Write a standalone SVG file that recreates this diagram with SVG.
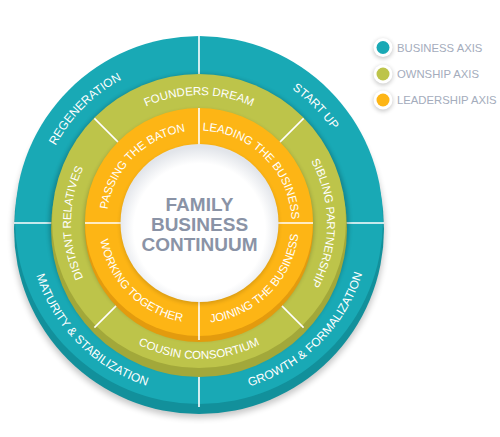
<svg xmlns="http://www.w3.org/2000/svg" width="500" height="437" viewBox="0 0 500 437">
<defs>
<style>
.lbl{font-family:"Liberation Sans","Open Sans",sans-serif;font-size:11.5px;fill:#ffffff}
.lbl.t{font-size:12px}
.div{stroke:#ffffff;stroke-width:1.6}
.center{font-family:"Liberation Sans",Arial,sans-serif;font-weight:bold;font-size:19px;fill:#8a93a6;text-anchor:middle}
.leg{font-family:"Liberation Sans",Arial,sans-serif;font-size:11.3px;fill:#a4acbc}
.sh{fill:#000000}
</style>
<filter id="blur3" x="-20%" y="-20%" width="140%" height="140%"><feGaussianBlur stdDeviation="3"/></filter>
<filter id="blur2" x="-20%" y="-20%" width="140%" height="140%"><feGaussianBlur stdDeviation="2"/></filter>
<radialGradient id="whiteG" cx="50%" cy="54%" r="52%">
<stop offset="0.8" stop-color="#ffffff"/>
<stop offset="1" stop-color="#e2e5ea"/>
</radialGradient>
<path id="pRegen" d="M65.48,316.49 A163,163 0 0 1 292.49,89.48"/>
<path id="pStart" d="M105.51,89.48 A163,163 0 0 1 332.52,316.49"/>
<path id="pGrowth" d="M100.92,363.07 A171,171 0 0 0 339.07,124.92"/>
<path id="pMatur" d="M58.93,124.92 A171,171 0 0 0 297.08,363.07"/>
<path id="pFound" d="M72.94,200.77 A128,128 0 0 1 325.06,200.77"/>
<path id="pSib" d="M221.23,96.94 A128,128 0 0 1 221.23,349.06"/>
<path id="pDist" d="M176.77,349.06 A128,128 0 0 1 176.77,96.94"/>
<path id="pCous" d="M65.07,246.62 A136,136 0 0 0 332.93,246.62"/>
<path id="pPass" d="M123.23,276.06 A92.5,92.5 0 0 1 252.06,147.23"/>
<path id="pLead" d="M145.94,147.23 A92.5,92.5 0 0 1 274.77,276.06"/>
<path id="pJoin" d="M141.64,304.92 A100,100 0 0 0 280.92,165.64"/>
<path id="pWork" d="M117.08,165.64 A100,100 0 0 0 256.36,304.92"/>
</defs>
<rect width="500" height="437" fill="#ffffff"/>

<g id="business-ring">
<circle class="sh" cx="199" cy="232" r="186" opacity="0.22" filter="url(#blur3)"/>
<circle cx="199" cy="229" r="185" fill="#12909b"/>
<circle cx="199" cy="220" r="184" fill="#19a9b5"/>
</g>
<g id="connectors-business">
<line class="div" x1="199" y1="36" x2="199" y2="407"/>
<line class="div" x1="14" y1="223" x2="384" y2="223"/>
</g>
<g id="regeneration"><text class="lbl t"><textPath href="#pRegen" startOffset="50%" text-anchor="middle">REGENERATION</textPath></text></g>
<g id="start-up"><text class="lbl t"><textPath href="#pStart" startOffset="50%" text-anchor="middle">START UP</textPath></text></g>
<g id="growth"><text class="lbl t"><textPath href="#pGrowth" startOffset="50%" text-anchor="middle">GROWTH &amp; FORMALIZATION</textPath></text></g>
<g id="maturity"><text class="lbl t"><textPath href="#pMatur" startOffset="50%" text-anchor="middle">MATURITY &amp; STABILIZATION</textPath></text></g>

<g id="ownership-ring">
<circle class="sh" cx="199" cy="224" r="150" opacity="0.22" filter="url(#blur2)"/>
<circle cx="199" cy="229" r="148" fill="#a2a83a"/>
<circle cx="199" cy="221" r="147" fill="#bdc44a"/>
</g>
<g id="connectors-ownership">
<line class="div" x1="94.4" y1="118.4" x2="303.6" y2="327.6"/>
<line class="div" x1="303.6" y1="118.4" x2="94.4" y2="327.6"/>
</g>
<g id="founders-dream"><text class="lbl"><textPath href="#pFound" startOffset="50%" text-anchor="middle">FOUNDERS DREAM</textPath></text></g>
<g id="sibling-partnership"><text class="lbl"><textPath href="#pSib" startOffset="50%" text-anchor="middle">SIBLING PARTNERSHIP</textPath></text></g>
<g id="cousin-consortium"><text class="lbl"><textPath href="#pCous" startOffset="50%" text-anchor="middle">COUSIN CONSORTIUM</textPath></text></g>
<g id="distant-relatives"><text class="lbl"><textPath href="#pDist" startOffset="50%" text-anchor="middle">DISTANT RELATIVES</textPath></text></g>

<g id="leadership-ring">
<circle class="sh" cx="199" cy="225" r="115" opacity="0.22" filter="url(#blur2)"/>
<circle cx="199" cy="228" r="114" fill="#e39b0e"/>
<circle cx="199" cy="222" r="114" fill="#fdb515"/>
</g>
<g id="connectors-leadership">
<line class="div" x1="199" y1="108" x2="199" y2="340"/>
<line class="div" x1="85" y1="223" x2="313" y2="223"/>
</g>
<g id="passing-the-baton"><text class="lbl"><textPath href="#pPass" startOffset="50%" text-anchor="middle">PASSING THE BATON</textPath></text></g>
<g id="leading-the-business"><text class="lbl"><textPath href="#pLead" startOffset="50%" text-anchor="middle">LEADING THE BUSINESS</textPath></text></g>
<g id="joining-the-business"><text class="lbl"><textPath href="#pJoin" startOffset="50%" text-anchor="middle">JOINING THE BUSINESS</textPath></text></g>
<g id="working-together"><text class="lbl"><textPath href="#pWork" startOffset="50%" text-anchor="middle">WORKING TOGETHER</textPath></text></g>

<g id="center">
<circle class="sh" cx="199.5" cy="225" r="79" opacity="0.15" filter="url(#blur2)"/>
<circle cx="199.5" cy="223" r="79" fill="url(#whiteG)"/>
<text class="center" x="199.5" y="211">FAMILY</text>
<text class="center" x="199.5" y="231">BUSINESS</text>
<text class="center" x="199.5" y="251">CONTINUUM</text>
</g>

<g id="legend-business">
<circle class="sh" cx="383" cy="49" r="10" opacity="0.2" filter="url(#blur2)"/>
<circle cx="383" cy="47.5" r="9.5" fill="#ffffff"/>
<circle cx="383" cy="47.5" r="6.5" fill="#19a9b5"/>
<text class="leg" x="397" y="52">BUSINESS AXIS</text>
</g>
<g id="legend-ownership">
<circle class="sh" cx="383" cy="75.5" r="10" opacity="0.2" filter="url(#blur2)"/>
<circle cx="383" cy="74" r="9.5" fill="#ffffff"/>
<circle cx="383" cy="74" r="6.5" fill="#bdc44a"/>
<text class="leg" x="397" y="78">OWNSHIP AXIS</text>
</g>
<g id="legend-leadership">
<circle class="sh" cx="383" cy="101.5" r="10" opacity="0.2" filter="url(#blur2)"/>
<circle cx="383" cy="100" r="9.5" fill="#ffffff"/>
<circle cx="383" cy="100" r="6.5" fill="#fdb515"/>
<text class="leg" x="397" y="104">LEADERSHIP AXIS</text>
</g>
</svg>
